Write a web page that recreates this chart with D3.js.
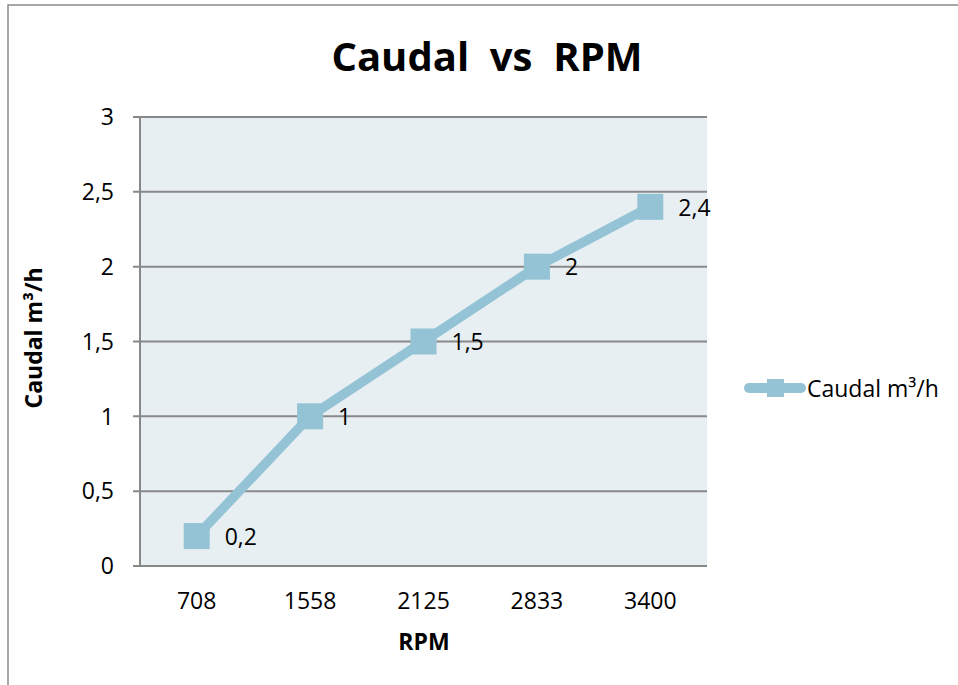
<!DOCTYPE html>
<html><head><meta charset="utf-8">
<script src="https://cdn.jsdelivr.net/npm/d3@7"></script>
<style>body{margin:0;background:#fff}svg{display:block}text{font-family:"Open Sans","Noto Sans",sans-serif}</style>
</head><body><svg id="c" width="958" height="685"></svg>
<script>
const categories = ["708","1558","2125","2833","3400"];
const values = [0.2, 1, 1.5, 2, 2.4];
const valueLabels = ["0,2","1","1,5","2","2,4"];
const yTicks = [0,0.5,1,1.5,2,2.5,3];
const yTickLabels = ["0","0,5","1","1,5","2","2,5","3"];
const seriesName = "Caudal m³/h";

const svg = d3.select("#c");
const color = "#93C3D5";
const grid = "#888888";
const L=140,R=707,T=117,B=566;

// outer frame
svg.append("rect").attr("x",8).attr("y",5).attr("width",958).attr("height",700)
  .attr("fill","none").attr("stroke","#8a8a8a").attr("stroke-width",1.5);

const x = d3.scaleBand().domain(categories).range([L,R]);
const y = d3.scaleLinear().domain([0,3]).range([B,T]);

svg.append("rect").attr("x",L).attr("y",T).attr("width",R-L).attr("height",B-T).attr("fill","#E8EFF3");

// gridlines
svg.append("g").selectAll("line").data(yTicks).join("line")
  .attr("x1",L-7).attr("x2",R).attr("y1",d=>y(d)).attr("y2",d=>y(d))
  .attr("stroke",grid).attr("stroke-width",2);
svg.append("line").attr("x1",L).attr("x2",L).attr("y1",T).attr("y2",B).attr("stroke",grid).attr("stroke-width",2);

// y tick labels
svg.append("g").selectAll("text").data(yTicks).join("text")
  .attr("x",114).attr("y",d=>y(d)).attr("dy","0.36em").attr("text-anchor","end")
  .attr("font-size",23).attr("fill","#000").text((d,i)=>yTickLabels[i]);

// x tick labels
svg.append("g").selectAll("text").data(categories).join("text")
  .attr("x",d=>x(d)+x.bandwidth()/2).attr("y",609).attr("text-anchor","middle")
  .attr("font-size",23).attr("fill","#000").text(d=>d);

// line
const line = d3.line().x((d,i)=>x(categories[i])+x.bandwidth()/2).y(d=>y(d));
svg.append("path").datum(values).attr("d",line).attr("fill","none")
  .attr("stroke",color).attr("stroke-width",9.5).attr("stroke-linejoin","round");

const ms=26;
svg.append("g").selectAll("rect").data(values).join("rect")
  .attr("x",(d,i)=>x(categories[i])+x.bandwidth()/2-ms/2).attr("y",d=>y(d)-ms/2)
  .attr("width",ms).attr("height",ms).attr("fill",color);

svg.append("g").selectAll("text").data(values).join("text")
  .attr("x",(d,i)=>x(categories[i])+x.bandwidth()/2+28).attr("y",d=>y(d)).attr("dy","0.38em")
  .attr("font-size",23).attr("fill","#000").text((d,i)=>valueLabels[i]);

// title
svg.append("text").attr("x",487).attr("y",71).attr("text-anchor","middle")
  .attr("font-size",40).attr("font-weight","bold").attr("fill","#000")
  .attr("xml:space","preserve").style("white-space","pre").text("Caudal  vs  RPM");

// axis titles
svg.append("text").attr("x",424).attr("y",650).attr("text-anchor","middle")
  .attr("font-size",23).attr("font-weight","bold").text("RPM");
svg.append("text").attr("transform","translate(42,338) rotate(-90)").attr("text-anchor","middle")
  .attr("font-size",23).attr("font-weight","bold").text(seriesName);

// legend
const lg = svg.append("g");
lg.append("line").attr("x1",749).attr("x2",801).attr("y1",388).attr("y2",388)
  .attr("stroke",color).attr("stroke-width",10).attr("stroke-linecap","round");
lg.append("rect").attr("x",767).attr("y",379).attr("width",17).attr("height",18).attr("fill",color);
lg.append("text").attr("x",807).attr("y",388).attr("dy","0.38em").attr("font-size",23).text(seriesName);
</script></body></html>
